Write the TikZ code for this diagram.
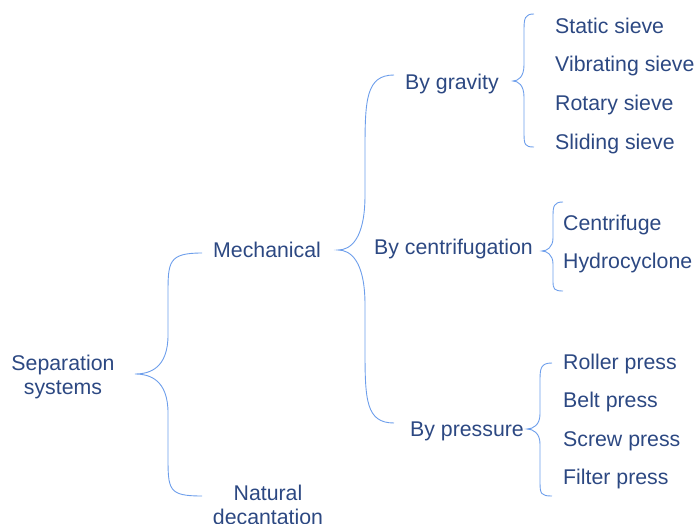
\documentclass[tikz,border=0pt]{standalone}
\usepackage{fontspec}
\setmainfont{Liberation Sans}
\definecolor{txt}{RGB}{44,72,130}
\definecolor{brc}{RGB}{109,158,235}
\begin{document}
\begin{tikzpicture}[x=1pt,y=-1pt,
  lbl/.style={anchor=mid west,inner sep=0pt,text=txt,font=\fontsize{21.3}{25}\selectfont},
  lbl2/.style={anchor=center,inner sep=0pt,text=txt,align=center,font=\fontsize{21.3}{24.5}\selectfont},
  brace/.style={draw=brc,line width=0.9pt}]
\useasboundingbox (0,0) rectangle (696,524);
% nodes
\node[lbl2] (sep) at (63,377) {Separation\\systems};
\node[lbl] (mech) at (213,255) {Mechanical};
\node[lbl2] (nat) at (268,505) {Natural\\decantation};
\node[lbl] (grav) at (405,87) {By gravity};
\node[lbl] (cent) at (374,252) {By centrifugation};
\node[lbl] (pres) at (410,434) {By pressure};
\node[lbl] (s1) at (555,31) {Static sieve};
\node[lbl] (s2) at (555,69) {Vibrating sieve};
\node[lbl] (s3) at (555,108) {Rotary sieve};
\node[lbl] (s4) at (555,147) {Sliding sieve};
\node[lbl] (c1) at (563,228) {Centrifuge};
\node[lbl] (c2) at (563,266) {Hydrocyclone};
\node[lbl] (p1) at (563,367) {Roller press};
\node[lbl] (p2) at (563,405) {Belt press};
\node[lbl] (p3) at (563,444) {Screw press};
\node[lbl] (p4) at (563,482) {Filter press};
% brace coordinates
\coordinate (b0t) at (135,374); \coordinate (b0a) at (202,253); \coordinate (b0b) at (202,496);
\coordinate (b1t) at (338,250); \coordinate (b1a) at (394,75); \coordinate (b1b) at (394,423);
\coordinate (b2t) at (513,81); \coordinate (b2a) at (534,14); \coordinate (b2b) at (534,147);
\coordinate (b3t) at (542,251); \coordinate (b3a) at (563,202); \coordinate (b3b) at (563,291);
\coordinate (b4t) at (527,429); \coordinate (b4a) at (552,363); \coordinate (b4b) at (552,496);
% braces
\draw[brace] (b0a) .. controls (168,253) and (168,262) .. (168,295) -- (168,335)
  .. controls (168,368) and (150,374) .. (b0t)
  .. controls (150,374) and (168,380) .. (168,413) -- (168,455)
  .. controls (168,490) and (168,496) .. (b0b);
\draw[brace] (b1a) .. controls (366,75) and (365,100) .. (365,150) -- (365,195)
  .. controls (365,240) and (350,250) .. (b1t)
  .. controls (350,250) and (365,260) .. (365,305) -- (365,350)
  .. controls (365,400) and (366,423) .. (b1b);
\draw[brace] (b2a) .. controls (525,14) and (524,18) .. (524,30) -- (524,65)
  .. controls (524,77) and (518,81) .. (b2t)
  .. controls (518,81) and (524,85) .. (524,97) -- (524,133)
  .. controls (524,145) and (525,147) .. (b2b);
\draw[brace] (b3a) .. controls (554,202) and (553,206) .. (553,216) -- (553,238)
  .. controls (553,247) and (547,251) .. (b3t)
  .. controls (547,251) and (553,255) .. (553,264) -- (553,281)
  .. controls (553,289) and (554,291) .. (b3b);
\draw[brace] (b4a) .. controls (541,363) and (540,368) .. (540,380) -- (540,414)
  .. controls (540,425) and (533,429) .. (b4t)
  .. controls (533,429) and (540,433) .. (540,444) -- (540,482)
  .. controls (540,494) and (541,496) .. (b4b);
\end{tikzpicture}
\end{document}
